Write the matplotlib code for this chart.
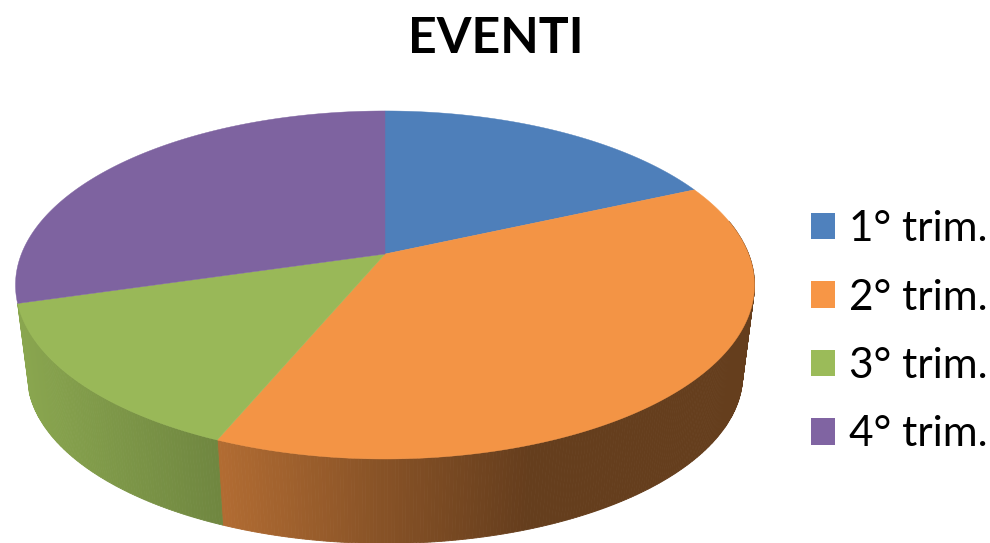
import numpy as np
import matplotlib
matplotlib.use("Agg")
import matplotlib.pyplot as plt
from matplotlib.colors import to_rgb
from matplotlib.patches import Patch

title = "EVENTI"
categories = ["1° trim.", "2° trim.", "3° trim.", "4° trim."]
values = [18.3, 38.0, 14.2, 29.5]
colors = ["#4F81BD", "#F79646", "#9BBB59", "#8064A2"]

# projection of the tilted disc in pixel units
CX, CY_TOP, CY_BOT = 385.0, 254.0, 345.0
A, B, K = 363.6, 168.5, 0.178
BOT_SCALE = 0.968
SHADE_X = [15, 217, 400, 530, 760]
SHADE_F = [0.89, 0.72, 0.53, 0.41, 0.41]
TOP_F = 0.985


def rim(theta, cy, s=1.0):
    """theta clockwise from the top, radians; returns pixel x, y."""
    u, v = np.sin(theta), -np.cos(theta)
    w = 1 - K * v
    return CX + s * A * u / w, cy + s * B * v / w


fig = plt.figure(figsize=(9.9, 5.43), dpi=100)
ax = fig.add_axes([0, 0, 1, 1])
ax.set_xlim(0, 990)
ax.set_ylim(543, 0)
ax.axis("off")

edges = np.cumsum([0] + values) / sum(values) * 2 * np.pi

# side wall of the front slices, built of thin strips shaded by their x position
for i, col in enumerate(colors):
    if i not in (1, 2):
        continue
    th = np.linspace(edges[i], edges[i + 1], max(3, int((edges[i + 1] - edges[i]) * 120)))
    base = np.array(to_rgb(col))
    for t0, t1 in zip(th[:-1], th[1:]):
        if np.cos((t0 + t1) / 2) > 0.2:
            continue
        x0, y0 = rim(t0, CY_TOP)
        x1, y1 = rim(t1, CY_TOP)
        x2, y2 = rim(t1, CY_BOT, BOT_SCALE)
        x3, y3 = rim(t0, CY_BOT, BOT_SCALE)
        f = np.interp((x0 + x1) / 2, SHADE_X, SHADE_F)
        ax.fill([x0, x1, x2, x3], [y0, y1, y2, y3], color=base * f, lw=0.6, zorder=2 + i * 0.01)

# top face
for i, col in enumerate(colors):
    th = np.linspace(edges[i], edges[i + 1], 200)
    x, y = rim(th, CY_TOP)
    ax.fill(np.r_[CX, x], np.r_[CY_TOP, y], color=np.array(to_rgb(col)) * TOP_F, lw=0.3, zorder=3)

fig.text(495.5 / 990, 1 - 38.5 / 543, title, ha="center", va="center",
         fontsize=36, fontweight="bold", family="Lato", color="black")

handles = [Patch(facecolor=c, edgecolor="none") for c in colors]
leg = ax.legend(handles, categories, loc="upper left", bbox_to_anchor=(811 / 990, 1 - 210 / 543),
                frameon=False, prop={"family": "Lato", "size": 30.5},
                handlelength=0.57, handleheight=0.57, handletextpad=0.32,
                labelspacing=0.72, borderpad=0, borderaxespad=0)
fig.savefig("out.png", dpi=100)
